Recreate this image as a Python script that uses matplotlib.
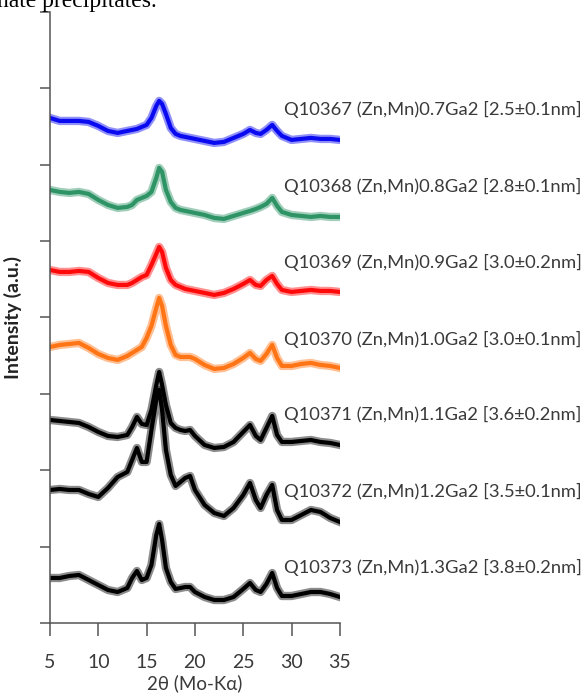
import matplotlib.pyplot as plt

two_theta = [5, 6, 7, 8, 9, 10, 11, 12, 13, 13.5, 14, 14.5, 15, 15.5, 16, 16.3, 16.6,
             17, 17.5, 18, 18.5, 19, 19.5, 20, 21, 22, 23, 24, 25, 25.7, 26.3, 26.8,
             27.4, 28, 28.5, 29, 30, 31, 32, 33, 34, 35]

# stacked intensities (a.u., offset already included)
q10367 = [505, 502, 502, 502, 501, 497, 492, 490, 492, 493, 494, 496, 498, 505, 517, 522, 519,
          509, 495, 489, 487, 486, 485, 484, 482, 480, 481, 485, 489, 493, 490, 489,
          493, 498, 492, 487, 483, 484, 485, 484, 484, 483]
q10368 = [433, 431, 430, 431, 429, 423, 418, 415, 416, 418, 423, 425, 427, 431, 445, 455, 451,
          433, 421, 415, 413, 412, 411, 410, 408, 405, 404, 407, 410, 412, 414, 416,
          419, 425, 417, 411, 408, 407, 406, 407, 406, 406]
q10369 = [353, 351, 351, 352, 351, 345, 340, 338, 338, 340, 343, 346, 348, 358, 369, 376, 371,
          355, 343, 338, 336, 334, 333, 332, 330, 328, 330, 334, 339, 343, 338, 337,
          343, 347, 339, 333, 331, 332, 333, 332, 332, 331]
q10370 = [276, 278, 279, 280, 275, 269, 265, 263, 267, 270, 273, 276, 285, 297, 315, 325, 317,
          297, 278, 268, 266, 266, 266, 264, 258, 254, 255, 259, 265, 270, 264, 262,
          269, 278, 265, 257, 257, 259, 260, 258, 257, 255]
q10371 = [203, 202, 201, 200, 196, 191, 187, 186, 188, 196, 206, 199, 198, 213, 238, 251, 238,
          218, 200, 195, 193, 192, 193, 187, 178, 175, 176, 181, 191, 198, 187, 183,
          195, 207, 188, 181, 181, 182, 183, 181, 180, 178]
q10372 = [133, 134, 133, 133, 129, 126, 135, 146, 151, 163, 175, 161, 161, 193, 223, 233, 213,
          173, 148, 137, 141, 145, 147, 133, 118, 110, 107, 115, 128, 140, 123, 115,
          128, 138, 113, 103, 103, 108, 113, 111, 105, 101]
q10373 = [45, 45, 47, 48, 43, 38, 33, 31, 35, 45, 52, 43, 45, 58, 88, 99, 83,
          55, 41, 34, 35, 36, 36, 31, 26, 23, 23, 26, 34, 40, 33, 31,
          39, 50, 35, 27, 27, 29, 31, 31, 29, 26]

series = [q10367, q10368, q10369, q10370, q10371, q10372, q10373]
colors = ['#0a0af0', '#2e9466', '#ff0a0a', '#ff7414', 'black', 'black', 'black']
labels = ['Q10367 (Zn,Mn)0.7Ga2 [2.5\u00b10.1nm]',
          'Q10368 (Zn,Mn)0.8Ga2 [2.8\u00b10.1nm]',
          'Q10369 (Zn,Mn)0.9Ga2 [3.0\u00b10.2nm]',
          'Q10370 (Zn,Mn)1.0Ga2 [3.0\u00b10.1nm]',
          'Q10371 (Zn,Mn)1.1Ga2 [3.6\u00b10.2nm]',
          'Q10372 (Zn,Mn)1.2Ga2 [3.5\u00b10.1nm]',
          'Q10373 (Zn,Mn)1.3Ga2 [3.8\u00b10.2nm]']
label_y = [513, 436, 360, 283, 208, 131, 55]

plt.rcParams['font.family'] = ['Lato', 'DejaVu Sans']
txt = '#3a3a3a'

fig = plt.figure(figsize=(5.88, 7.0), dpi=100)
ax = fig.add_axes([0.085, 0.11, 0.493, 0.873])

for y, c in zip(series, colors):
    # soft outer band plus solid core, so the traces read as noisy scans
    ax.plot(two_theta, y, color=c, lw=6.0, alpha=0.45, solid_joinstyle='round')
    ax.plot(two_theta, y, color=c, lw=3.0, solid_joinstyle='round')

for lab, ly in zip(labels, label_y):
    ax.text(29.2, ly, lab, fontsize=13.2, color=txt, va='center', ha='left', clip_on=False)

ax.set_xlim(5, 35)
ax.set_ylim(0, 611)
ax.set_xticks([5, 10, 15, 20, 25, 30, 35])
ax.set_yticks([611 * i / 8 for i in range(9)])
ax.set_yticklabels([])
for s in ['top', 'right']:
    ax.spines[s].set_visible(False)
for s in ['left', 'bottom']:
    ax.spines[s].set_color('#555555')
    ax.spines[s].set_linewidth(1.1)
ax.tick_params(axis='x', length=9, width=1.1, color='#555555', pad=13, labelsize=14, labelcolor=txt)
ax.tick_params(axis='y', length=7.5, width=1.1, color='#555555')

ax.set_xlabel('2\u03b8 (Mo-K\u03b1)', fontsize=13.5, color=txt, labelpad=3)
ax.set_ylabel('Intensity (a.u.)', fontsize=14, fontweight='bold', color='#222222', labelpad=9)

# tail of the caption line above the figure
fig.text(-0.005, 0.99, 'nate precipitates.', fontsize=17, family='Liberation Serif',
         va='baseline', ha='left', color='black')

fig.savefig('out.png', dpi=100)
